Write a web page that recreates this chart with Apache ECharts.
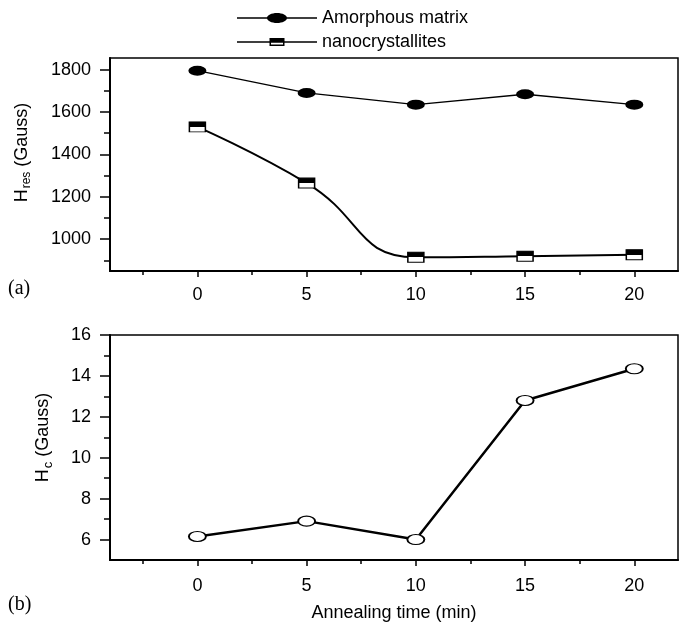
<!DOCTYPE html>
<html>
<head>
<meta charset="utf-8">
<script src="https://cdn.jsdelivr.net/npm/echarts@6/dist/echarts.min.js"></script>
<style>
  html, body { margin: 0; padding: 0; background: #fff; }
  #chart { width: 686px; height: 627px; }
</style>
</head>
<body>
<div id="chart"></div>
<script>
// Annealing time (min)
const times = [0, 5, 10, 15, 20];
// H_res (Gauss)
const amorphous = [1795, 1690, 1635, 1684, 1635];
const nano = [1530, 1265, 915, 920, 927];
// H_c (Gauss)
const hc = [6.15, 6.9, 6.0, 12.8, 14.35];

// tick positions
const xMajor = [0, 5, 10, 15, 20];
const xMinor = [-2.5, 2.5, 7.5, 12.5, 17.5];
const hresMajor = [1000, 1200, 1400, 1600, 1800];
const hresMinor = [900, 1100, 1300, 1500, 1700];
const hcMajor = [6, 8, 10, 12, 14, 16];
const hcMinor = [7, 9, 11, 13, 15];

const FONT = 'Liberation Sans';
const black = '#000';

const pairs = ys => times.map((t, i) => [t, ys[i]]);

// legend icons: line with the marker in the middle (80 x 10 box)
const ellipseIcon = 'path://M0,4.2H80V5.8H0Z' +
  'M30,5C30,2.24 34.48,0 40,0C45.52,0 50,2.24 50,5C50,7.76 45.52,10 40,10C34.48,10 30,7.76 30,5Z';
const halfRectIcon = 'path://M0,0L0.01,0L0,0.01Z M0,10L0.01,10L0,9.99Z' +
  'M0,4.2H80V5.8H0Z' +
  'M32.5,1H47.5V9H32.5Z M34,5.8V7.6H46V5.8Z';

const halfFill = {
  type: 'linear', x: 0, y: 0, x2: 0, y2: 1,
  colorStops: [
    { offset: 0, color: '#000' },
    { offset: 0.5, color: '#000' },
    { offset: 0.5, color: '#fff' },
    { offset: 1, color: '#fff' }
  ]
};

const tickLabel = { fontSize: 18, fontFamily: FONT, color: black, formatter: v => String(v) };

const mainX = (gridIndex, extra) => Object.assign({
  type: 'value', gridIndex, min: -4, max: 22, position: 'bottom',
  axisLine: { show: true, onZero: false, lineStyle: { color: black, width: 2 } },
  axisTick: { show: true, length: 6, customValues: xMajor, lineStyle: { color: black, width: 1.5 } },
  axisLabel: Object.assign({ customValues: xMajor, margin: 15 }, tickLabel),
  splitLine: { show: false }
}, extra);

const minorX = gridIndex => ({
  type: 'value', gridIndex, min: -4, max: 22, position: 'bottom',
  axisLine: { show: false, onZero: false },
  axisTick: { show: true, length: 4, customValues: xMinor, lineStyle: { color: black, width: 1.5 } },
  axisLabel: { show: false },
  splitLine: { show: false }
});

const mainY = (gridIndex, min, max, ticks, extra) => Object.assign({
  type: 'value', gridIndex, min, max, position: 'left',
  axisLine: { show: true, onZero: false, lineStyle: { color: black, width: 2 } },
  axisTick: { show: true, length: 10, customValues: ticks, lineStyle: { color: black, width: 1.5 } },
  axisLabel: Object.assign({ customValues: ticks, margin: 19 }, tickLabel),
  splitLine: { show: false }
}, extra);

const minorY = (gridIndex, min, max, ticks) => ({
  type: 'value', gridIndex, min, max, position: 'left',
  axisLine: { show: false, onZero: false },
  axisTick: { show: true, length: 6, customValues: ticks, lineStyle: { color: black, width: 1.5 } },
  axisLabel: { show: false },
  splitLine: { show: false }
});

const chart = echarts.init(document.getElementById('chart'));

const option = {
  animation: false,
  backgroundColor: '#fff',
  textStyle: { fontFamily: FONT },
  legend: {
    orient: 'vertical',
    left: 232,
    top: 4,
    itemWidth: 80,
    itemHeight: 10,
    itemGap: 6,
    textStyle: { fontSize: 18, fontFamily: FONT, color: black },
    data: [
      { name: 'Amorphous matrix', icon: ellipseIcon, itemStyle: { color: black, borderWidth: 0 } },
      { name: 'nanocrystallites', icon: halfRectIcon, itemStyle: { color: black, borderWidth: 0 } }
    ]
  },
  grid: [
    { left: 110, right: 8, top: 58, height: 213, show: true, borderColor: black, borderWidth: 1.5 },
    { left: 110, right: 8, top: 335, height: 225, show: true, borderColor: black, borderWidth: 1.5 }
  ],
  xAxis: [
    mainX(0),
    minorX(0),
    mainX(1, {
      axisLabel: Object.assign({ customValues: xMajor, margin: 17 }, tickLabel),
      name: 'Annealing time (min)',
      nameLocation: 'middle',
      nameGap: 44,
      nameTextStyle: { fontSize: 18, fontFamily: FONT, color: black }
    }),
    minorX(1)
  ],
  yAxis: [
    mainY(0, 850, 1855, hresMajor, {
      name: '{m|H}{s|res}{m| (Gauss)}',
      nameLocation: 'middle',
      nameGap: 77,
      nameTextStyle: {
        padding: [0, 0, 0, 24],
        rich: {
          m: { fontSize: 18, fontFamily: FONT, color: black },
          s: { fontSize: 12, fontFamily: FONT, color: black, padding: [10, 0, 0, 1] }
        }
      }
    }),
    minorY(0, 850, 1855, hresMinor),
    mainY(1, 5, 16, hcMajor, {
      name: '{m|H}{s|c}{m| (Gauss)}',
      nameLocation: 'middle',
      nameGap: 55,
      nameTextStyle: {
        padding: [0, 0, 0, 20],
        rich: {
          m: { fontSize: 18, fontFamily: FONT, color: black },
          s: { fontSize: 13, fontFamily: FONT, color: black, padding: [10, 0, 0, 1] }
        }
      }
    }),
    minorY(1, 5, 16, hcMinor)
  ],
  graphic: [
    { type: 'text', left: 8, top: 279, style: { text: '(a)', font: '20px "Liberation Serif"', fill: black } },
    { type: 'text', left: 8, top: 595, style: { text: '(b)', font: '20px "Liberation Serif"', fill: black } }
  ],
  series: [
    {
      name: 'Amorphous matrix',
      type: 'line',
      xAxisIndex: 0,
      yAxisIndex: 0,
      data: pairs(amorphous),
      symbol: 'circle',
      symbolSize: [18, 10],
      itemStyle: { color: black },
      lineStyle: { color: black, width: 1.3 }
    },
    {
      name: 'nanocrystallites',
      type: 'line',
      xAxisIndex: 0,
      yAxisIndex: 0,
      data: pairs(nano),
      smooth: 0.5,
      symbol: 'rect',
      symbolSize: [16, 10],
      itemStyle: { color: halfFill, borderColor: black, borderWidth: 1.2 },
      lineStyle: { color: black, width: 2 }
    },
    {
      name: 'Hc',
      type: 'line',
      xAxisIndex: 2,
      yAxisIndex: 2,
      data: pairs(hc),
      symbol: 'circle',
      symbolSize: [17, 10],
      itemStyle: { color: '#fff', borderColor: black, borderWidth: 1.5 },
      lineStyle: { color: black, width: 2.5 }
    }
  ]
};

chart.setOption(option);
</script>
</body>
</html>
